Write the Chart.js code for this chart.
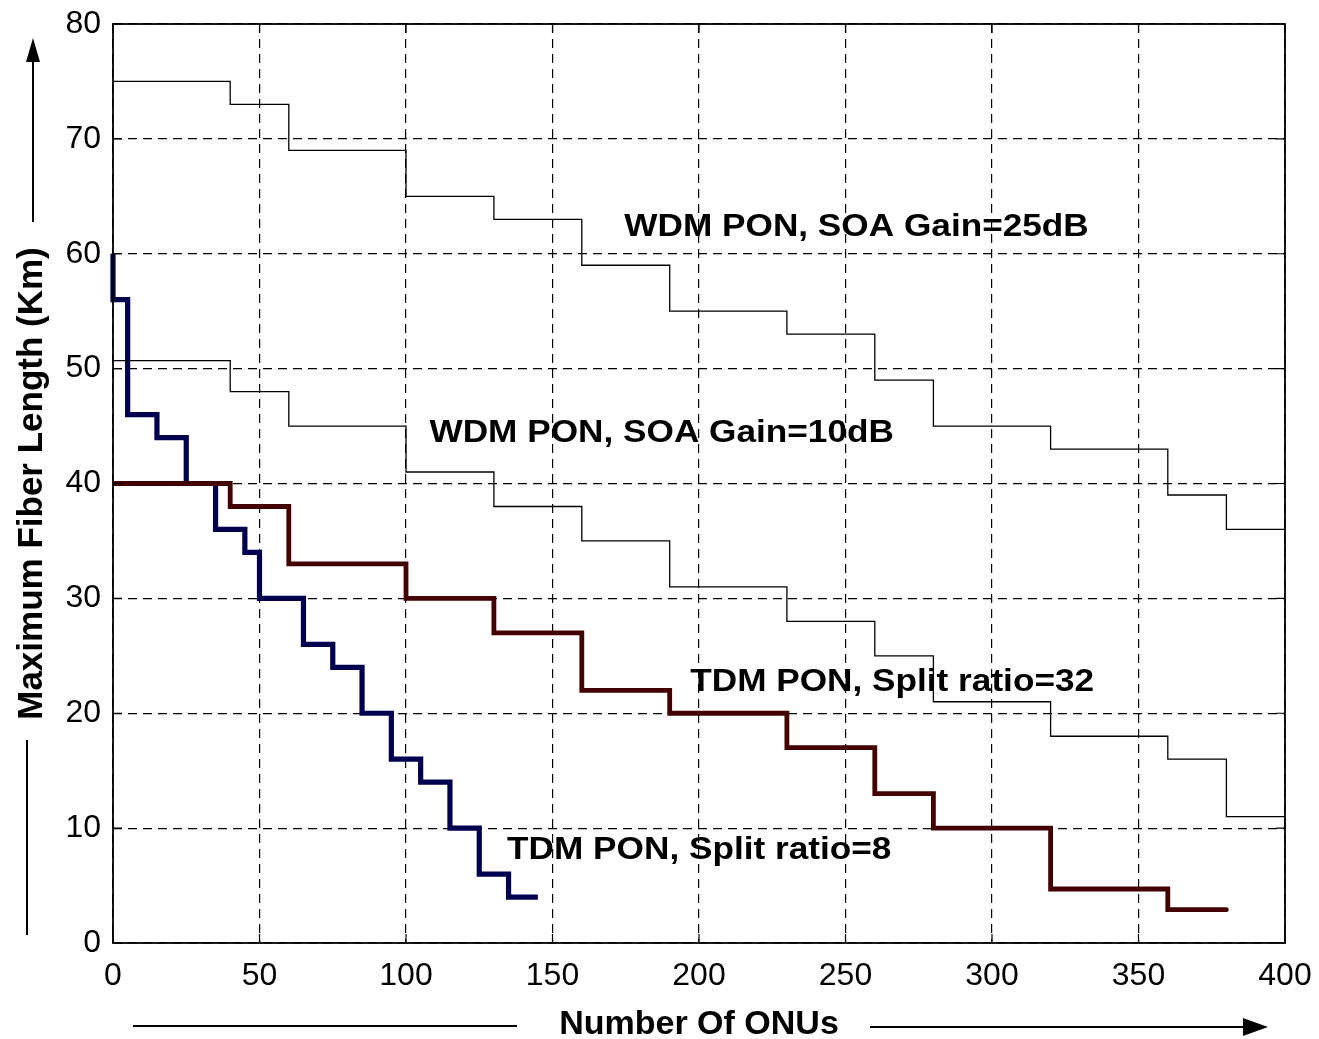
<!DOCTYPE html>
<html>
<head>
<meta charset="utf-8">
<script src="https://cdn.jsdelivr.net/npm/chart.js@4"></script>
<style>
  body { margin: 0; background: #fff; }
  #wrap { width: 1319px; height: 1039px; }
</style>
</head>
<body>
<div id="wrap"><canvas id="fiberchart" width="1319" height="1039"></canvas></div>
<script>
// x breakpoints (Number of ONUs) shared by the WDM curves and the 32-split TDM curve
const onus = [0, 40, 60, 100, 130, 160, 190, 230, 260, 280, 320, 360, 380, 400];
const wdm25 = [75, 73, 69, 65, 63, 59, 55, 53, 49, 45, 43, 39, 36, 36];
const wdm10 = [50.7, 48, 45, 41, 38, 35, 31, 28, 25, 21, 18, 16, 11, 11];

const tdm32Onus = [0, 40, 60, 100, 130, 160, 190, 230, 260, 280, 320, 360, 380];
const tdm32 = [40, 38, 33, 30, 27, 22, 20, 17, 13, 10, 4.7, 2.9, 2.9];

const tdm8Onus = [0, 0, 5, 15, 25, 35, 45, 50, 65, 75, 85, 95, 105, 115, 125, 135, 145];
const tdm8 = [60, 56, 46, 44, 40, 36, 34, 30, 26, 24, 20, 16, 14, 10, 6, 4, 4];

const xTicks = [0, 50, 100, 150, 200, 250, 300, 350, 400];
const yTicks = [0, 10, 20, 30, 40, 50, 60, 70, 80];

// curve labels: [text, x, y] in data units (left edge, middle)
const curveLabels = [
    ['WDM PON, SOA Gain=25dB', 174.5, 62.3],
    ['WDM PON, SOA Gain=10dB', 108, 44.4],
    ['TDM PON, Split ratio=32', 197, 22.7],
    ['TDM PON, Split ratio=8', 134.5, 8.1]
];

function toPoints(xs, ys) {
    return xs.map((x, i) => ({ x: x, y: ys[i] }));
}

const FONT = "Arial, 'Liberation Sans', Helvetica, sans-serif";

// draws the box, inward ticks, curve labels and the axis arrows
const decorPlugin = {
    id: 'decor',
    afterDatasetsDraw(chart) {
        const ctx = chart.ctx;
        const a = chart.chartArea;
        const xs = chart.scales.x;
        const ys = chart.scales.y;
        ctx.save();

        // inward ticks on all four sides
        ctx.strokeStyle = '#000';
        ctx.lineWidth = 1.2;
        ctx.beginPath();
        xTicks.forEach(v => {
            const px = xs.getPixelForValue(v);
            ctx.moveTo(px, a.bottom); ctx.lineTo(px, a.bottom - 9);
            ctx.moveTo(px, a.top); ctx.lineTo(px, a.top + 9);
        });
        yTicks.forEach(v => {
            const py = ys.getPixelForValue(v);
            ctx.moveTo(a.left, py); ctx.lineTo(a.left + 9, py);
            ctx.moveTo(a.right, py); ctx.lineTo(a.right - 9, py);
        });
        ctx.stroke();

        // box
        ctx.lineWidth = 1.8;
        ctx.strokeRect(a.left, a.top, a.right - a.left, a.bottom - a.top);

        // curve labels (a bit wider than plain Arial, like the original)
        ctx.fillStyle = '#000';
        ctx.font = 'bold 32px ' + FONT;
        ctx.textAlign = 'left';
        ctx.textBaseline = 'middle';
        curveLabels.forEach(l => {
            const px = xs.getPixelForValue(l[1]);
            const py = ys.getPixelForValue(l[2]);
            ctx.save();
            ctx.translate(px, py);
            ctx.scale(1.1, 1);
            ctx.fillText(l[0], 0, 0);
            ctx.restore();
        });

        // y axis arrow
        ctx.lineWidth = 2;
        ctx.beginPath();
        ctx.moveTo(33, 222); ctx.lineTo(33, 58);
        ctx.moveTo(27, 740); ctx.lineTo(27, 935);
        ctx.stroke();
        ctx.beginPath();
        ctx.moveTo(33, 38); ctx.lineTo(26, 62); ctx.lineTo(40, 62);
        ctx.closePath(); ctx.fill();

        // x axis arrow
        ctx.beginPath();
        ctx.moveTo(133, 1026); ctx.lineTo(517, 1026);
        ctx.moveTo(870, 1027); ctx.lineTo(1248, 1027);
        ctx.stroke();
        ctx.beginPath();
        ctx.moveTo(1268, 1027); ctx.lineTo(1243, 1018); ctx.lineTo(1243, 1036);
        ctx.closePath(); ctx.fill();

        ctx.restore();
    }
};

const ctx = document.getElementById('fiberchart').getContext('2d');
const fiberchart = new Chart(ctx, {
    type: 'line',
    data: {
        datasets: [
            {
                label: 'WDM PON, SOA Gain=25dB',
                data: toPoints(onus, wdm25),
                borderColor: '#000',
                borderWidth: 1.3,
                stepped: 'before',
                pointRadius: 0
            },
            {
                label: 'WDM PON, SOA Gain=10dB',
                data: toPoints(onus, wdm10),
                borderColor: '#000',
                borderWidth: 1.3,
                stepped: 'before',
                pointRadius: 0
            },
            {
                label: 'TDM PON, Split ratio=32',
                data: toPoints(tdm32Onus, tdm32),
                borderColor: '#420000',
                borderWidth: 4.8,
                stepped: 'before',
                pointRadius: 0,
                borderCapStyle: 'round'
            },
            {
                label: 'TDM PON, Split ratio=8',
                data: toPoints(tdm8Onus, tdm8),
                borderColor: '#00004f',
                borderWidth: 5.2,
                stepped: 'before',
                pointRadius: 0,
                clip: false
            }
        ]
    },
    options: {
        responsive: false,
        animation: false,
        layout: {
            padding: { top: 24, right: 34, left: 0, bottom: 0 }
        },
        plugins: {
            legend: { display: false },
            tooltip: { enabled: false }
        },
        scales: {
            x: {
                type: 'linear',
                min: 0,
                max: 400,
                afterBuildTicks: function(scale) {
                    scale.ticks = xTicks.map(v => ({ value: v }));
                },
                afterFit: function(scale) {
                    scale.height = 96;
                    scale.paddingLeft = 0;
                    scale.paddingRight = 0;
                },
                grid: {
                    color: '#000',
                    lineWidth: 1.2,
                    drawTicks: false
                },
                border: { display: false, dash: [9, 6] },
                ticks: {
                    color: '#000',
                    padding: 14,
                    maxRotation: 0,
                    font: { family: FONT, size: 32 }
                },
                title: {
                    display: true,
                    text: 'Number Of ONUs',
                    color: '#000',
                    padding: { top: 0, bottom: -6 },
                    font: { family: FONT, size: 34, weight: 'bold' }
                }
            },
            y: {
                type: 'linear',
                min: 0,
                max: 80,
                afterBuildTicks: function(scale) {
                    scale.ticks = yTicks.map(v => ({ value: v }));
                },
                afterFit: function(scale) {
                    scale.width = 113;
                    scale.paddingTop = 0;
                    scale.paddingBottom = 0;
                },
                grid: {
                    color: '#000',
                    lineWidth: 1.2,
                    drawTicks: false
                },
                border: { display: false, dash: [9, 6] },
                ticks: {
                    color: '#000',
                    padding: 12,
                    font: { family: FONT, size: 32 }
                },
                title: {
                    display: true,
                    text: 'Maximum Fiber Length (Km)',
                    color: '#000',
                    padding: { top: 11, bottom: 0 },
                    font: { family: FONT, size: 35, weight: 'bold' }
                }
            }
        }
    },
    plugins: [decorPlugin]
});
</script>
</body>
</html>
